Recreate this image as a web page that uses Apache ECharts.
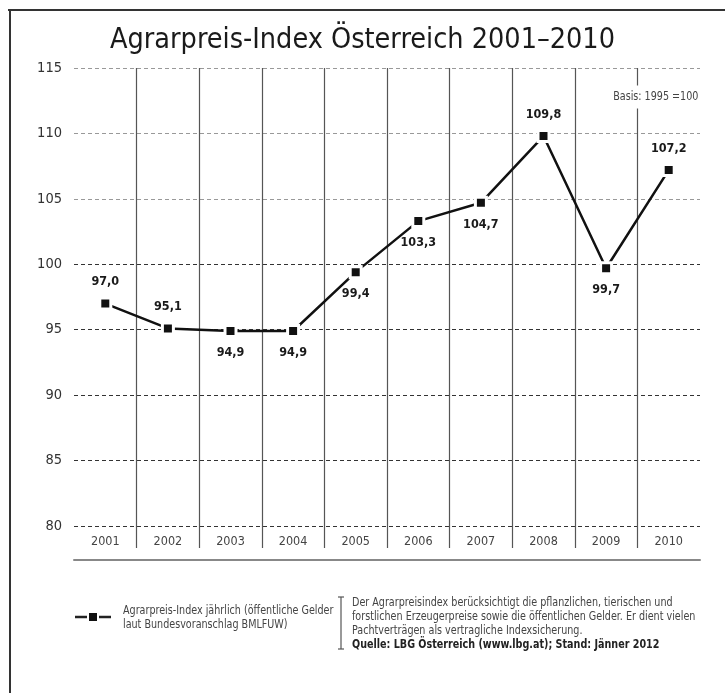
<!DOCTYPE html>
<html><head><meta charset="utf-8">
<script src="https://cdn.jsdelivr.net/npm/echarts@6/dist/echarts.min.js"></script>
<style>html,body{margin:0;padding:0;background:#fff}#c{width:725px;height:693px}</style>
</head><body><div id="c"></div>
<script>
const years = ['2001','2002','2003','2004','2005','2006','2007','2008','2009','2010'];
const indexValues = [97.0, 95.1, 94.9, 94.9, 99.4, 103.3, 104.7, 109.8, 99.7, 107.2];
const labelSides = ['top','top','bottom','bottom','bottom','bottom','bottom','top','bottom','top'];
const yTicks = [80, 85, 90, 95, 100, 105, 110, 115];
const titleText = 'Agrarpreis-Index Österreich 2001–2010';
const seriesName = 'Agrarpreis-Index jährlich (öffentliche Gelder\nlaut Bundesvoranschlag BMLFUW)';
const noteLines = [
  'Der Agrarpreisindex berücksichtigt die pflanzlichen, tierischen und',
  'forstlichen Erzeugerpreise sowie die öffentlichen Gelder. Er dient vielen',
  'Pachtverträgen als vertragliche Indexsicherung.'
];
const sourceLine = 'Quelle: LBG Österreich (www.lbg.at); Stand: Jänner 2012';
const basisText = 'Basis: 1995 =100';

const FONT = '"DejaVu Sans Condensed","Liberation Sans Narrow",sans-serif';
const chart = echarts.init(document.getElementById('c'));
const fmt = v => v.toFixed(1).replace('.', ',');

chart.setOption({
  animation: false,
  backgroundColor: '#fff',
  textStyle: { fontFamily: FONT },
  title: {
    text: titleText, left: 'center', top: 21,
    textStyle: { fontFamily: FONT, fontSize: 28.5, fontWeight: 'normal', color: '#1a1a1a' }
  },
  legend: { show: false, data: [seriesName] },
  grid: [
    { left: 74, right: 25, top: 68, bottom: 167 },
    { left: 74, right: 25, top: 68, bottom: 145 }
  ],
  xAxis: [
    {
      type: 'category', data: years, gridIndex: 0, boundaryGap: true,
      axisLine: { show: false }, axisTick: { show: false }, splitLine: { show: false },
      axisLabel: { margin: 9, fontSize: 12.5, color: '#444', fontFamily: FONT }
    },
    {
      type: 'value', gridIndex: 1, min: 0, max: years.length, interval: 1,
      axisLabel: { show: false }, axisTick: { show: false },
      offset: 12,
      axisLine: { show: true, onZero: false, lineStyle: { color: '#888', width: 2 } },
      splitLine: { show: true, showMinLine: false, showMaxLine: false, lineStyle: { color: '#555', width: 1.2 } }
    }
  ],
  yAxis: [
    {
      type: 'value', gridIndex: 0, min: yTicks[0], max: yTicks[yTicks.length - 1], interval: 5,
      axisLine: { show: false }, axisTick: { show: false },
      axisLabel: { margin: 12, fontSize: 14.5, color: '#333', fontFamily: FONT },
      splitLine: { show: true, lineStyle: {
        color: ['#333', '#333', '#333', '#333', '#333', '#999', '#999', '#999'],
        type: [4, 3], width: 1 } }
    },
    { type: 'value', gridIndex: 1, show: false, min: 0, max: 1 }
  ],
  series: [
    {
      name: seriesName, type: 'line', xAxisIndex: 0, yAxisIndex: 0, z: 5,
      data: indexValues.map((v, i) => ({
        value: v,
        label: { position: labelSides[i] }
      })),
      symbol: 'rect', symbolSize: 11,
      lineStyle: { color: '#111', width: 2.5 },
      itemStyle: { color: '#111', borderColor: '#fff', borderWidth: 3 },
      label: {
        show: true, distance: 8, fontFamily: FONT, fontSize: 12.5, fontWeight: 'bold', color: '#1a1a1a',
        formatter: p => fmt(p.value)
      }
    }
  ],
  graphic: [
    { type: 'line', shape: { x1: 8, y1: 10, x2: 725, y2: 10 }, style: { stroke: '#333', lineWidth: 2 } },
    { type: 'line', shape: { x1: 10, y1: 10, x2: 10, y2: 693 }, style: { stroke: '#333', lineWidth: 2 } },
    { type: 'text', x: 700, y: 97, scaleX: 0.82, z: 100,
      style: { text: basisText, fontFamily: FONT, fontSize: 13, fill: '#444', align: 'right',
               verticalAlign: 'middle', backgroundColor: '#fff', padding: [5, 2] } },
    // legend
    { type: 'line', shape: { x1: 75, y1: 617, x2: 87, y2: 617 }, style: { stroke: '#222', lineWidth: 2.5 } },
    { type: 'rect', shape: { x: 89, y: 613, width: 8, height: 8 }, style: { fill: '#111' } },
    { type: 'line', shape: { x1: 99, y1: 617, x2: 111, y2: 617 }, style: { stroke: '#222', lineWidth: 2.5 } },
    { type: 'text', x: 123, y: 604, scaleX: 0.82,
      style: { text: seriesName, fontFamily: FONT, fontSize: 13, fill: '#444', lineHeight: 14 } },
    // note bracket
    { type: 'line', shape: { x1: 341, y1: 597, x2: 341, y2: 649 }, style: { stroke: '#555', lineWidth: 1.2 } },
    { type: 'line', shape: { x1: 338, y1: 597, x2: 344, y2: 597 }, style: { stroke: '#555', lineWidth: 1.2 } },
    { type: 'line', shape: { x1: 338, y1: 649, x2: 344, y2: 649 }, style: { stroke: '#555', lineWidth: 1.2 } },
    { type: 'text', x: 352, y: 596, scaleX: 0.82,
      style: {
        text: noteLines.map(t => '{n|' + t + '}').join('\n') + '\n{b|' + sourceLine + '}',
        rich: {
          n: { fontFamily: FONT, fontSize: 13, fill: '#444', lineHeight: 14 },
          b: { fontFamily: FONT, fontSize: 13, fontWeight: 'bold', fill: '#222', lineHeight: 14 }
        }
      } }
  ]
});
</script></body></html>
